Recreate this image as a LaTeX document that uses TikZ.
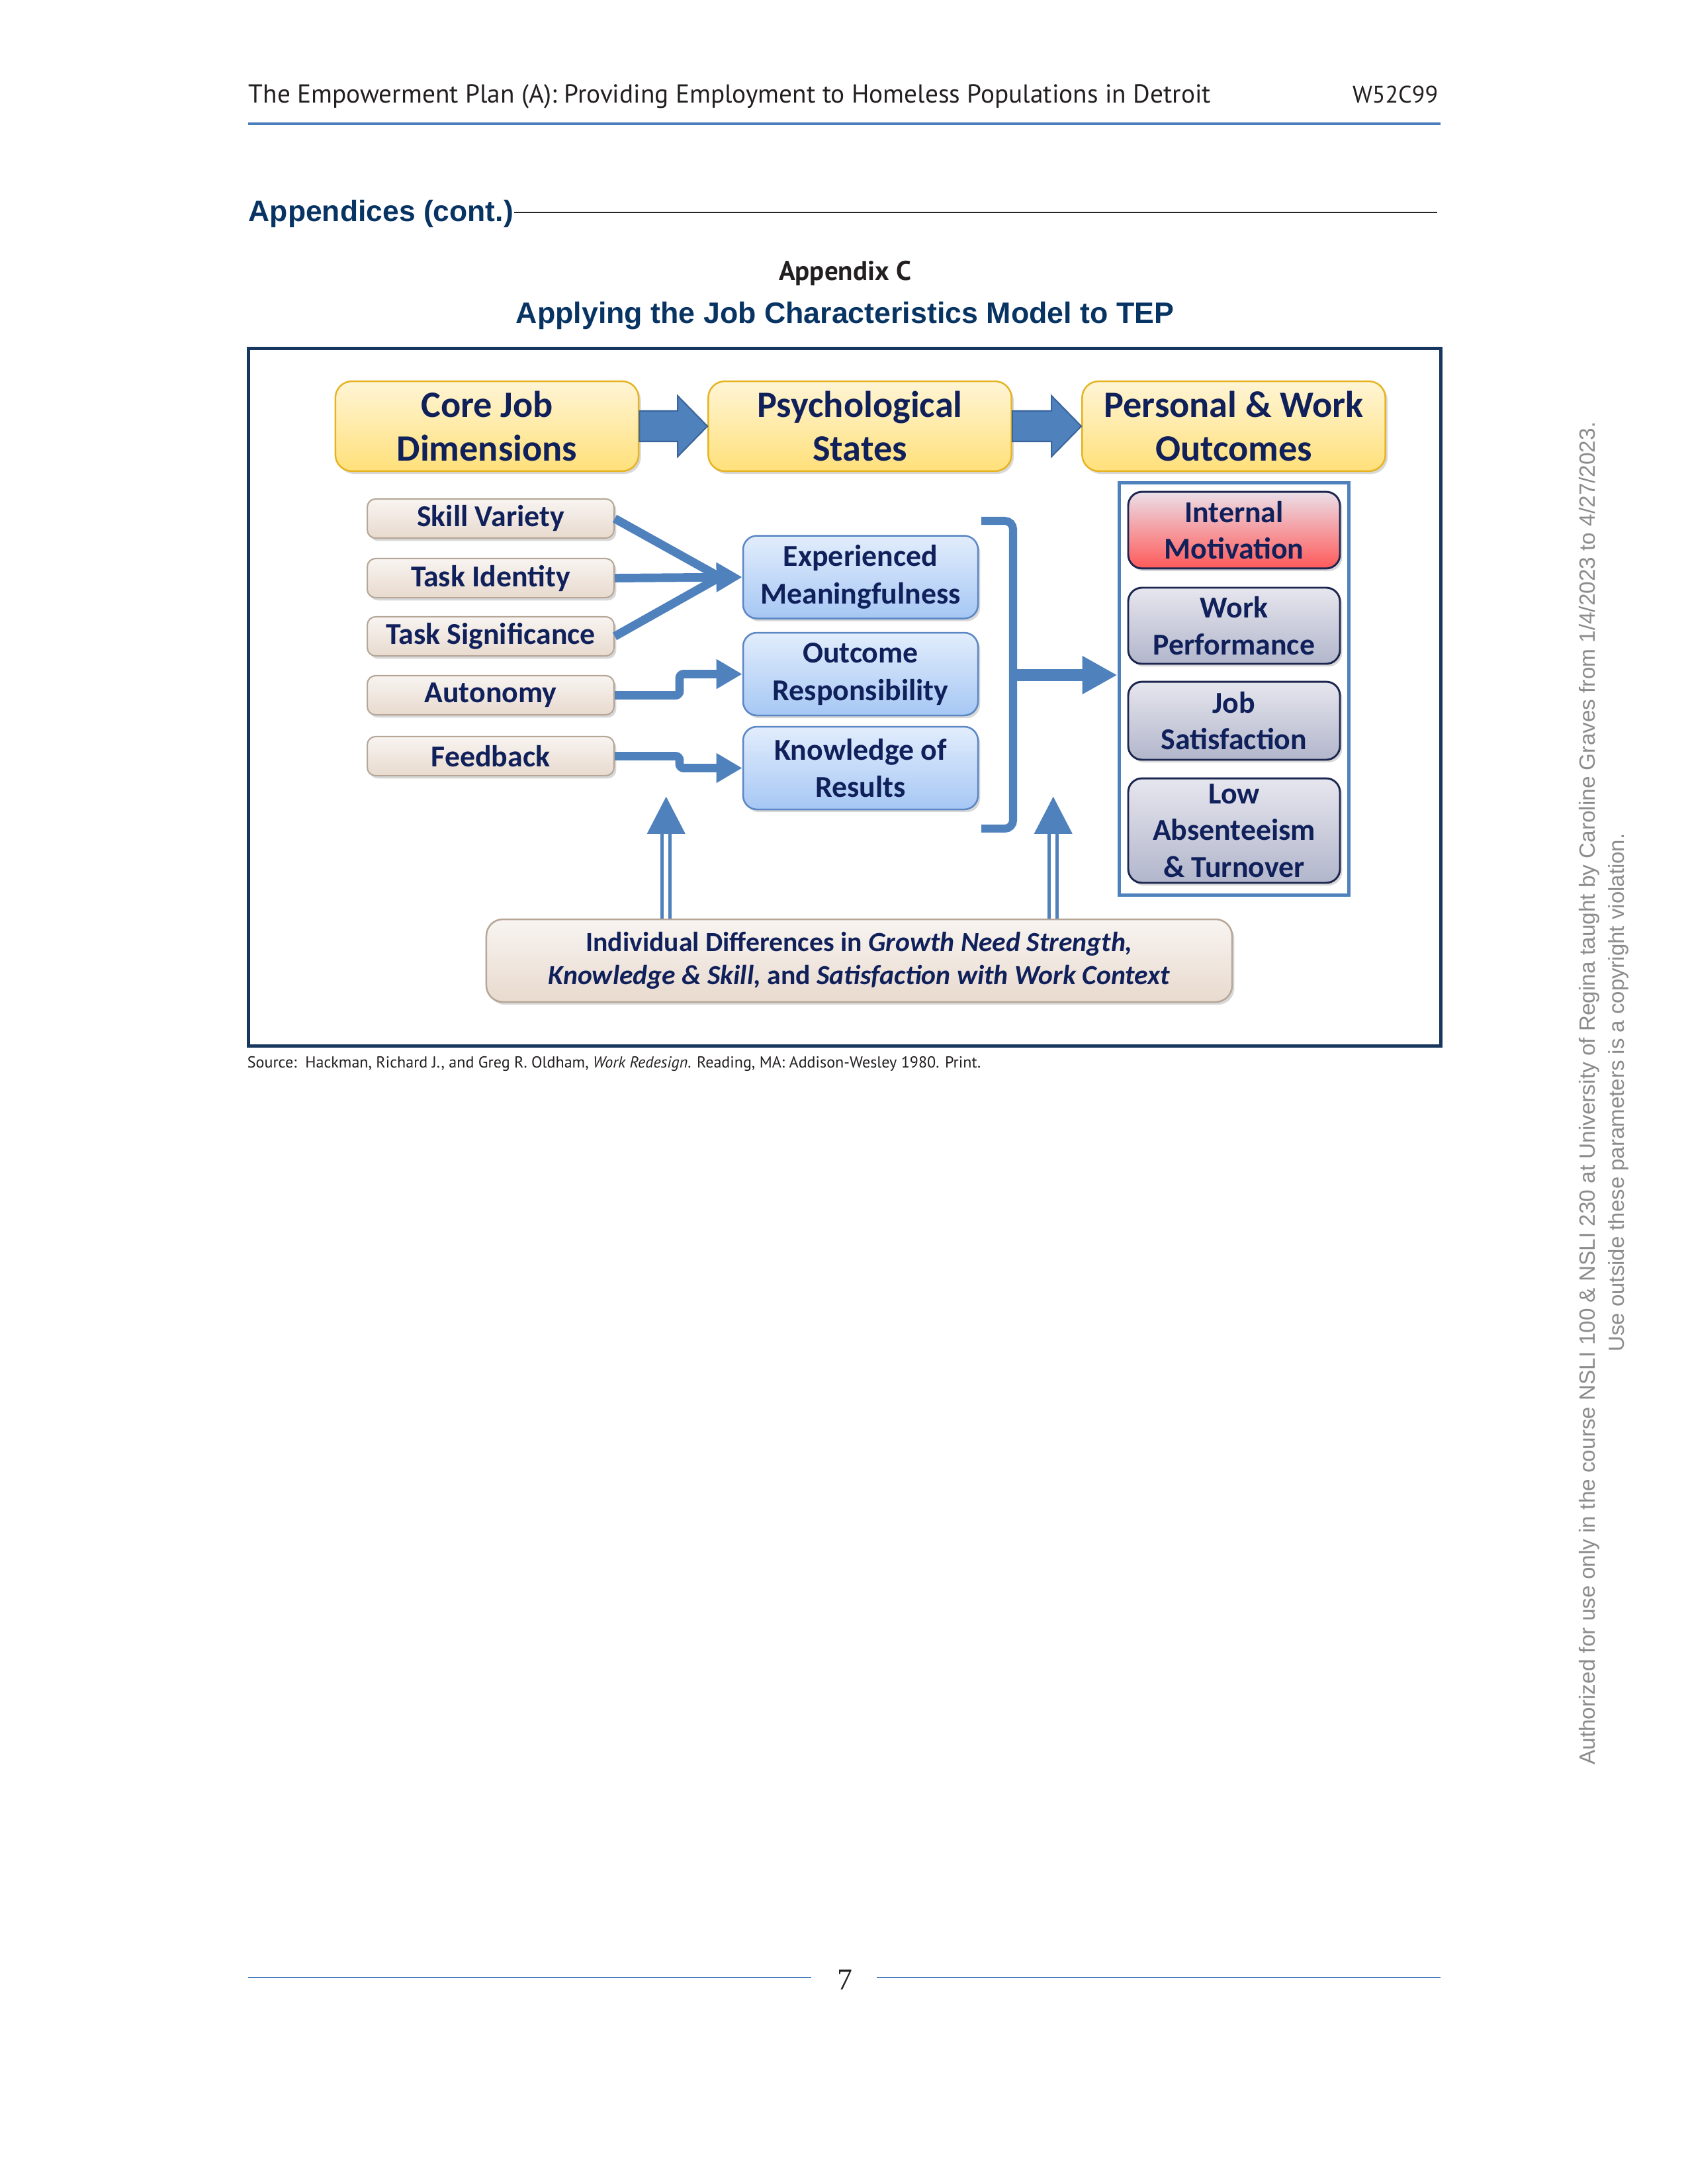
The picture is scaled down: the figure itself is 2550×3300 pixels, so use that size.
\documentclass[tikz,border=0pt]{standalone}
\usepackage{fontspec}
\usepackage{graphicx}
\usetikzlibrary{calc,arrows.meta,shadows}
\newfontfamily\calibri{Carlito}
\newfontfamily\arialf{Liberation Sans}
\newfontfamily\hdrf{PT Sans}
\newfontfamily\pagefont{Liberation Serif}
\definecolor{navytext}{HTML}{10205A}
\definecolor{titleblue}{HTML}{083463}
\definecolor{hdrgray}{HTML}{231F20}
\definecolor{frame}{HTML}{17375E}
\definecolor{arrowblue}{HTML}{4F81BD}
\definecolor{arrowdark}{HTML}{3A659C}
\definecolor{rulec}{HTML}{4A7EBB}
\definecolor{ytop}{HTML}{FFF5D6}
\definecolor{ybot}{HTML}{FFE07A}
\definecolor{yedge}{HTML}{E6B422}
\definecolor{btop}{HTML}{F8F4F1}
\definecolor{bbot}{HTML}{E8DACE}
\definecolor{bedge}{HTML}{B5A697}
\definecolor{stop}{HTML}{E2EDFC}
\definecolor{sbot}{HTML}{A6C7F4}
\definecolor{sedge}{HTML}{5A86C4}
\definecolor{rtop}{HTML}{EBDFE8}
\definecolor{rbot}{HTML}{FF5959}
\definecolor{gtop}{HTML}{E6E6EE}
\definecolor{gbot}{HTML}{B2B6CB}
\definecolor{oedge}{HTML}{1C2650}
\definecolor{sidegray}{HTML}{8C8C8C}
\tikzset{
  boxshadow/.style={drop shadow={shadow xshift=0.8pt,shadow yshift=-1pt,opacity=0.25,fill=black!60}},
  hdrbox/.style={rounded corners=6pt, draw=yedge, line width=0.6pt, top color=ytop, bottom color=ybot,
    minimum width=110pt, minimum height=32.6pt, align=center, text=navytext, inner sep=0pt,
    font=\calibri\bfseries\fontsize{13.5}{16}\selectfont, boxshadow},
  dimbox/.style={rounded corners=3pt, draw=bedge, line width=0.5pt, top color=btop, bottom color=bbot,
    minimum width=89.5pt, minimum height=14.2pt, inner sep=0pt, text=navytext,
    font=\calibri\bfseries\fontsize{11}{13.6}\selectfont, boxshadow},
  statebox/.style={rounded corners=5pt, draw=sedge, line width=0.6pt, top color=stop, bottom color=sbot,
    minimum width=85.2pt, minimum height=30pt, inner sep=0pt, align=center, text=navytext,
    font=\calibri\bfseries\fontsize{11}{13.6}\selectfont, boxshadow},
  resbox/.style={rounded corners=5pt, draw=oedge, line width=0.7pt, top color=gtop, bottom color=gbot,
    minimum width=76.8pt, inner sep=0pt, align=center, text=navytext,
    font=\calibri\bfseries\fontsize{11}{13.3}\selectfont, boxshadow},
  redbox/.style={resbox, top color=rtop, bottom color=rbot},
  basebox/.style={rounded corners=6pt, draw=bedge, line width=0.6pt, top color=btop, bottom color=bbot,
    minimum width=270.5pt, minimum height=30pt, inner sep=0pt, align=center, text=navytext,
    font=\calibri\bfseries\fontsize{10}{12}\selectfont, boxshadow},
  blockarrow/.style={fill=arrowblue, draw=arrowdark, line width=0.5pt},
  fanline/.style={draw=arrowblue, line width=3.1pt},
  tipA/.style={-{Triangle[length=9.4pt,width=10.2pt]}},
  bigtip/.style={-{Triangle[length=12.7pt,width=13pt]}},
  dblshaft/.style={draw=arrowblue, line width=1.2pt, double=white, double distance=1.7pt},
}
\begin{document}
\begin{tikzpicture}[x=0.24pt,y=-0.24pt]
\useasboundingbox (0,0) rectangle (2550,3300);
\fill[white] (0,0) rectangle (2550,3300);

% page header
\node[anchor=base west, inner sep=0, text=hdrgray] (hdr) at (375,155)
  {\resizebox{349pt}{!}{\hdrf The Empowerment Plan (A): Providing Employment to Homeless Populations in Detroit}};
\node[anchor=base east, inner sep=0, text=hdrgray] (code) at (2174,155) {\resizebox{31pt}{!}{\hdrf W52C99}};
\draw[rulec, line width=1pt] (375,187) -- (2177,187);

\node[anchor=base west, inner sep=0, text=titleblue] (app) at (375,334)
  {\resizebox{96pt}{!}{\arialf\bfseries Appendices (cont.)}};
\draw[black!85, line width=0.7pt] (777,321) -- (2172,321);

\node[anchor=base, inner sep=0, text=hdrgray] (appc) at (1277,423) {\resizebox{48pt}{!}{\hdrf\bfseries Appendix C}};
\node[anchor=base, inner sep=0, text=titleblue] (title) at (1277,488)
  {\resizebox{238.6pt}{!}{\arialf\bfseries Applying the Job Characteristics Model to TEP}};

% frame
\draw[frame, line width=1.2pt] (375,526) rectangle (2177,1580);

% header boxes
\node[hdrbox] (core) at (736,644) {Core Job\\Dimensions};
\node[hdrbox] (psych) at (1299.5,644) {Psychological\\States};
\node[hdrbox] (pers) at (1864.5,644) {Personal \& Work\\Outcomes};

\draw[blockarrow] ($(core.east)+(0,-23)$) -- ($(psych.west)+(-45,-23)$) -- ($(psych.west)+(-45,-46)$)
  -- (psych.west) -- ($(psych.west)+(-45,46)$) -- ($(psych.west)+(-45,23)$) -- ($(core.east)+(0,23)$) -- cycle;
\draw[blockarrow] ($(psych.east)+(0,-23)$) -- ($(pers.west)+(-45,-23)$) -- ($(pers.west)+(-45,-46)$)
  -- (pers.west) -- ($(pers.west)+(-45,46)$) -- ($(pers.west)+(-45,23)$) -- ($(psych.east)+(0,23)$) -- cycle;

% core job dimension boxes
\node[dimbox] (skill) at (741.5,783.5) {Skill Variety};
\node[dimbox] (tid) at (741.5,873.5) {Task Identity};
\node[dimbox] (tsig) at (741.5,961.5) {Task Significance};
\node[dimbox] (auto) at (741.5,1050.5) {Autonomy};
\node[dimbox] (feed) at (741.5,1142.5) {Feedback};

% psychological states
\node[statebox] (exp) at (1300.5,872) {Experienced\\Meaningfulness};
\node[statebox] (outc) at (1300.5,1018.5) {Outcome\\Responsibility};
\node[statebox] (know) at (1300.5,1160.5) {Knowledge of\\Results};

% connectors left -> middle
\coordinate (conv) at (1088,872);
\draw[fanline] (skill.east) -- (conv);
\draw[fanline] (tsig.east) -- (conv);
\draw[fanline, tipA] (tid.east) -- (exp.west);
\draw[fanline, tipA, rounded corners=1.5pt] (auto.east) -- ++(98,0) |- (outc.west);
\draw[fanline, tipA, rounded corners=1.5pt] (feed.east) -- ++(98,0) |- (know.west);

% outcomes container and boxes
\node[draw=arrowblue, line width=1.2pt, minimum width=83.5pt, minimum height=149.3pt, inner sep=0] (outbox) at (1865,1041) {};
\node[redbox, minimum height=27.8pt] (im) at (1865,801) {Internal\\Motivation};
\node[resbox, minimum height=27.6pt] (wp) at (1865,945.5) {Work\\Performance};
\node[resbox, minimum height=28.3pt] (js) at (1865,1089) {Job\\Satisfaction};
\node[resbox, minimum height=37.9pt] (la) at (1865,1255) {Low\\Absenteeism\\\& Turnover};

% bracket and arrow to outcomes
\coordinate (brt) at (1483,787);
\coordinate (brb) at (1483,1252);
\coordinate (brm) at (1531,1020);
\draw[arrowblue, line width=2.9pt, rounded corners=3pt] (brt) -- (1531,787) -- (1531,1252) -- (brb);
\draw[arrowblue, line width=4.1pt, bigtip] (brm) -- (brm -| outbox.west);

% bottom box and up arrows
\node[basebox] (base) at (1298.5,1451.5)
  {Individual Differences in \textit{Growth Need Strength,}\\\textit{Knowledge \& Skill,} and \textit{Satisfaction with Work Context}};
\coordinate (u1) at ($(base.north west)+(273,0)$);
\coordinate (u2) at ($(base.north west)+(858,0)$);
\draw[dblshaft] (u1) -- ($(u1)+(0,-128)$);
\fill[arrowblue] ($(u1)+(-29,-128)$) -- ($(u1)+(29,-128)$) -- ($(u1)+(0,-184)$) -- cycle;
\draw[dblshaft] (u2) -- ($(u2)+(0,-128)$);
\fill[arrowblue] ($(u2)+(-29,-128)$) -- ($(u2)+(29,-128)$) -- ($(u2)+(0,-184)$) -- cycle;

% source
\node[anchor=base west, inner sep=0, text=hdrgray] (src) at (373,1613)
  {\resizebox{266pt}{!}{\hdrf Source:\ \ Hackman, Richard J., and Greg R. Oldham, \textit{Work Redesign}. Reading, MA: Addison-Wesley 1980. Print.}};

% side text
\node[rotate=90, inner sep=0, text=sidegray] (side1) at (2402,1652)
  {\resizebox{487pt}{!}{\arialf Authorized for use only in the course NSLI 100 \& NSLI 230 at University of Regina taught by Caroline Graves from 1/4/2023 to 4/27/2023.}};
\node[rotate=90, inner sep=0, text=sidegray] (side2) at (2446,1651)
  {\resizebox{188pt}{!}{\arialf Use outside these parameters is a copyright violation.}};

% footer
\draw[rulec, line width=0.7pt] (375,2988) -- (1226,2988);
\draw[rulec, line width=0.7pt] (1325,2988) -- (2177,2988);
\node[anchor=base, inner sep=0, text=hdrgray] (pg) at (1277,3006) {\pagefont\fontsize{11}{13}\selectfont 7};
\end{tikzpicture}
\end{document}
